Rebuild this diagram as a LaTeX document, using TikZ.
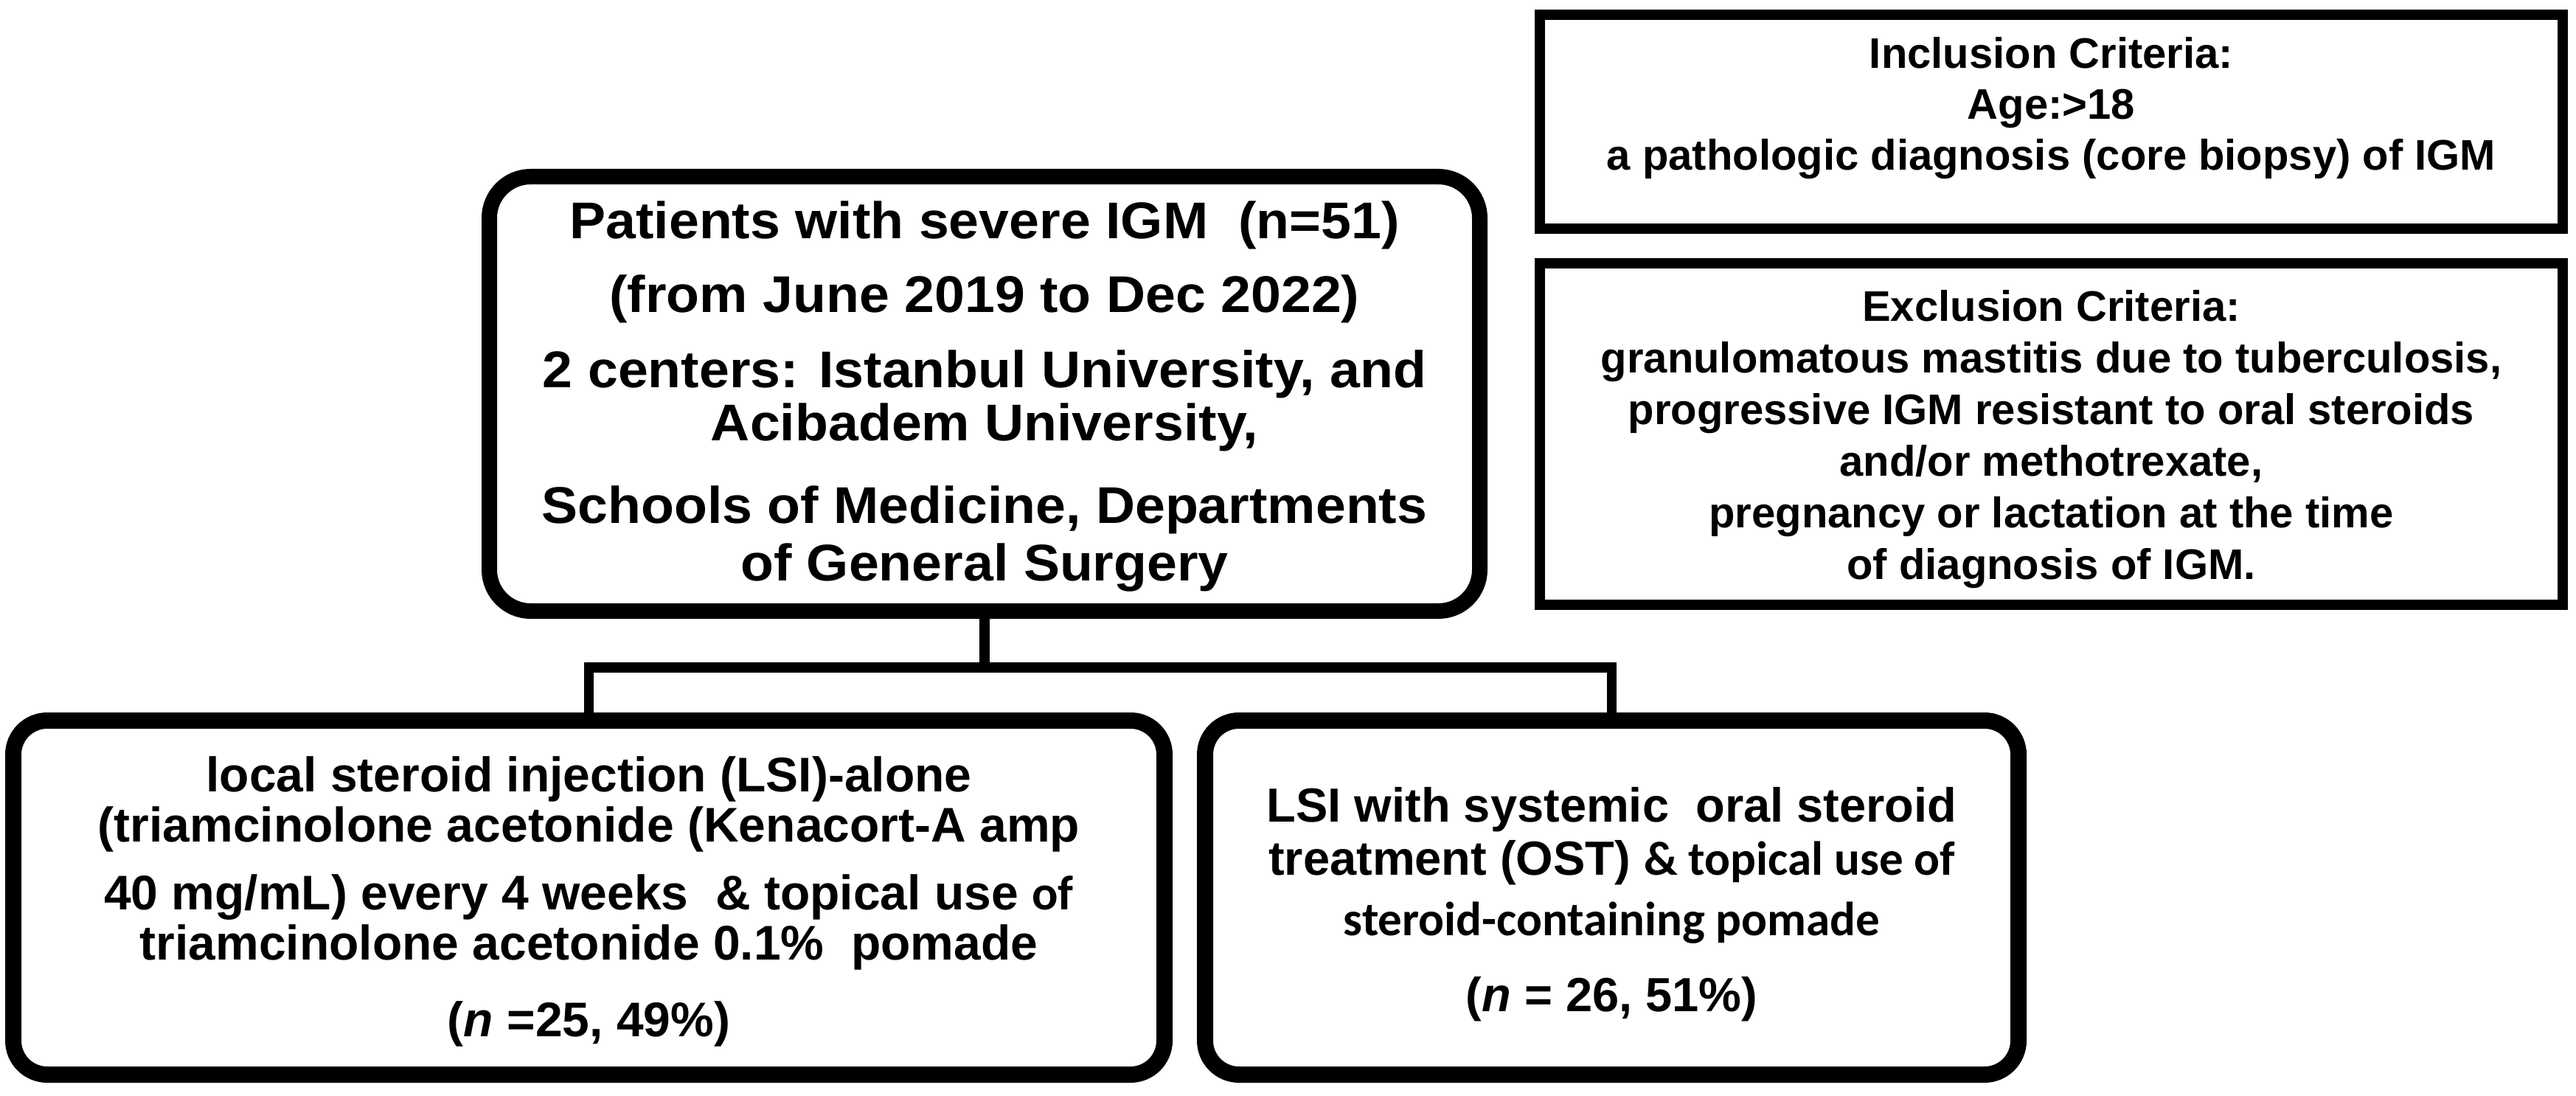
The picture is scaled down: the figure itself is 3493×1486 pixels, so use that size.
\documentclass[tikz,border=0pt]{standalone}
\usepackage{fontspec}
\setmainfont{Liberation Sans}
\newfontfamily\widesans[FakeStretch=1.05]{Liberation Sans}
\newfontfamily\calib{Carlito}
\newcommand{\tstrut}[1]{\rule{0pt}{#1}}
\newcommand{\bstrut}[1]{\rule[-#1]{0pt}{#1}}

\begin{document}
\begin{tikzpicture}[x=0.25pt,y=-0.25pt,
  mainbox/.style={draw,line width=5.25pt,rounded corners=14pt,align=center,
    font=\widesans\bfseries\fontsize{17.5pt}{18pt}\selectfont},
  critbox/.style={draw,line width=3.4pt,align=center,
    font=\bfseries\fontsize{14.5pt}{17.25pt}\selectfont},
  armbox/.style={draw,line width=5.5pt,rounded corners=11.5pt,align=center,
    minimum height=120pt},
  link/.style={line width=3.4pt}]
\useasboundingbox (0,0) rectangle (3493,1486);
\node[mainbox,minimum width=335.75pt,minimum height=147.25pt] (main) at (1335,534)
  {\tstrut{14.5pt}Patients with severe IGM\ \ (n=51)\\[7pt]
   (from June 2019 to Dec 2022)\\[7.5pt]
   2 centers: Istanbul University, and\\
   Acibadem University,\\[10pt]
   Schools of Medicine, Departments\\[1.5pt]
   of General Surgery};
\node[critbox,minimum width=346.75pt,minimum height=72.5pt] (incl) at (2781.5,165)
  {Inclusion Criteria:\\
   Age:>18\\
   a pathologic diagnosis (core biopsy) of IGM\bstrut{12.5pt}};
\node[critbox,minimum width=346.75pt,minimum height=115.75pt,
  font=\bfseries\fontsize{14.5pt}{17.5pt}\selectfont] (excl) at (2781.5,588.5)
  {\tstrut{14.25pt}Exclusion Criteria:\\
   granulomatous mastitis due to tuberculosis,\\
   progressive IGM resistant to oral steroids\\
   and/or methotrexate,\\
   pregnancy or lactation at the time\\
   of diagnosis of IGM.};
\node[armbox,minimum width=390.25pt,
  font=\bfseries\fontsize{16.5pt}{17pt}\selectfont] (lsi) at (798.5,1217)
  {\tstrut{14.75pt}local steroid injection (LSI)-alone\\
   (triamcinolone acetonide (Kenacort-A amp\\[6pt]
   40 mg/mL) every 4 weeks\ \ \& topical use {\calib of}\\
   triamcinolone acetonide 0.1\%\ \ pomade\\[9pt]
   ({\itshape n} =25, 49\%)};
\node[armbox,minimum width=275.75pt,
  font=\bfseries\fontsize{16.25pt}{18pt}\selectfont] (ost) at (2185.5,1217)
  {\tstrut{16.5pt}LSI with systemic\ \ oral steroid\\
   treatment (OST) {\calib\& topical use of}\\[2.5pt]
   {\calib steroid-containing pomade}\\[7.75pt]
   ({\itshape n} = 26, 51\%)};
\coordinate (bar) at (1335,905);
\draw[link] (main.south) -- (bar);
\draw[link] (lsi.north) |- (bar) -| (ost.north);
\end{tikzpicture}
\end{document}
